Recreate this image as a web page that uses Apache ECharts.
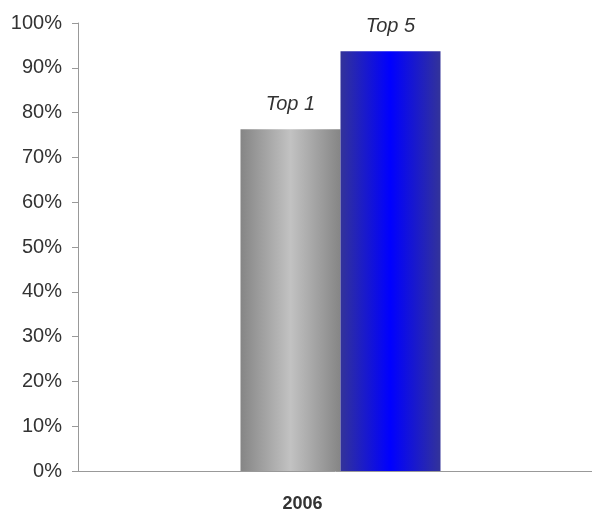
<!DOCTYPE html>
<html>
<head>
<meta charset="utf-8">
<script src="https://cdn.jsdelivr.net/npm/echarts@6/dist/echarts.min.js"></script>
<style>
  html, body { margin: 0; padding: 0; background: #fff; }
  #chart { width: 592px; height: 511px; }
</style>
</head>
<body>
<div id="chart"></div>
<script>
var categories = ["2006"];
var seriesNames = ["Top 1", "Top 5"];
var top1 = [0.763];
var top5 = [0.937];

var font = "'Liberation Sans', Arial, sans-serif";

// 柱子的横向渐变
function barGradient(edge, mid) {
  return new echarts.graphic.LinearGradient(0, 0, 1, 0, [
    { offset: 0, color: edge },
    { offset: 0.5, color: mid },
    { offset: 1, color: edge }
  ]);
}

function makeSeries(name, data, edge, mid) {
  return {
    name: name,
    type: "bar",
    barWidth: 100,
    barGap: "0%",
    itemStyle: { color: barGradient(edge, mid) },
    label: {
      show: true,
      position: "top",
      distance: 15,
      formatter: name,
      fontFamily: font,
      fontStyle: "italic",
      fontSize: 20,
      color: "#333"
    },
    data: data
  };
}

var myChart = echarts.init(document.getElementById("chart"));
myChart.setOption({
  animation: false,
  grid: {
    left: 78, top: 23, right: -11, bottom: 40,
    containLabel: false,
    outerBoundsMode: "none"
  },
  xAxis: {
    type: "category",
    data: categories,
    axisLine: { lineStyle: { color: "#999", width: 1 } },
    axisTick: { show: false },
    axisLabel: {
      margin: 24,
      fontFamily: font,
      fontWeight: "bold",
      fontSize: 18,
      color: "#333",
      padding: [0, 76, 0, 0]
    }
  },
  yAxis: {
    type: "value",
    min: 0,
    max: 1,
    interval: 0.1,
    splitLine: { show: false },
    axisLine: { show: true, lineStyle: { color: "#999", width: 1 } },
    axisTick: { show: true, length: 6, lineStyle: { color: "#999" } },
    axisLabel: {
      margin: 16,
      fontFamily: font,
      fontSize: 20,
      color: "#333",
      formatter: function (v) { return Math.round(v * 100) + "%"; }
    }
  },
  series: [
    makeSeries(seriesNames[0], top1, "#858585", "#c2c2c2"),
    makeSeries(seriesNames[1], top5, "#333399", "#0000ff")
  ]
});
</script>
</body>
</html>
